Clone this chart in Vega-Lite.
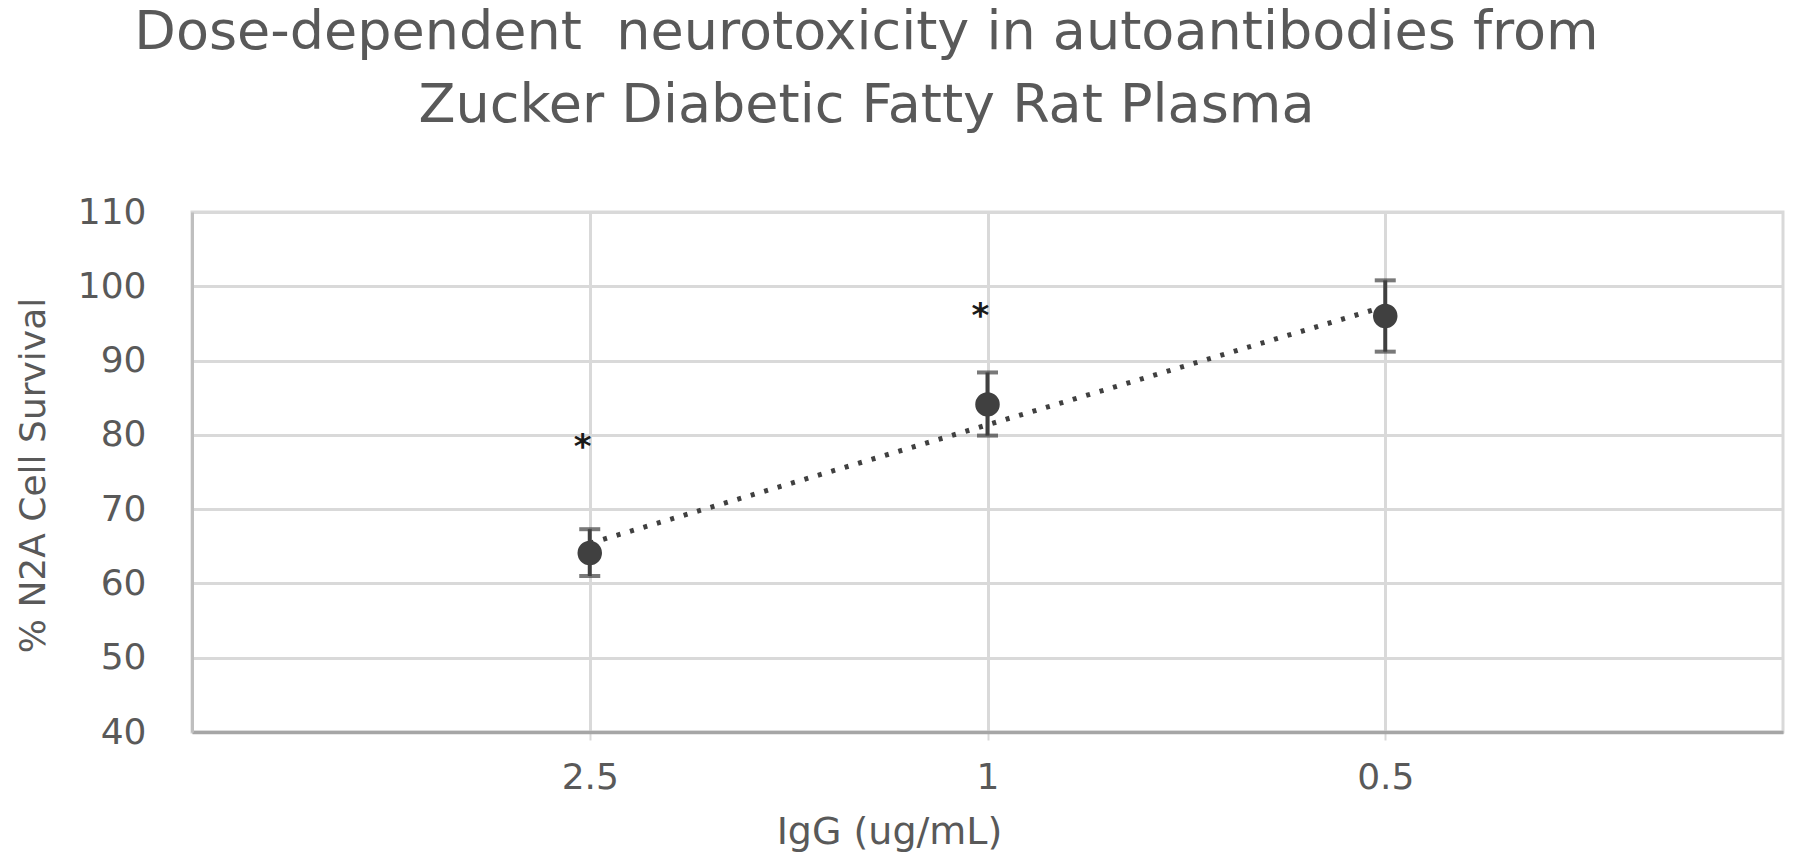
{
  "$schema": "https://vega.github.io/schema/vega-lite/v6.json",
  "width": 1591,
  "height": 520,
  "autosize": {"type": "none"},
  "padding": {"left": 192, "top": 212, "right": 17, "bottom": 134},
  "background": "white",
  "view": {"stroke": "#d9d9d9", "strokeWidth": 3},
  "title": {
    "text": ["Dose-dependent\u00a0 neurotoxicity in autoantibodies from", "Zucker Diabetic Fatty Rat Plasma"],
    "font": "DejaVu Sans",
    "fontSize": 54,
    "fontWeight": "normal",
    "color": "#595959",
    "anchor": "middle",
    "frame": "group",
    "dx": -121,
    "baseline": "alphabetic",
    "lineHeight": 73,
    "offset": 18
  },
  "datasets": {
    "points": [
      {"dose": "2.5", "survival": 64.1, "lo": 61.0, "hi": 67.3},
      {"dose": "1", "survival": 84.1, "lo": 79.9, "hi": 88.4},
      {"dose": "0.5", "survival": 96.0, "lo": 91.2, "hi": 100.8}
    ],
    "trend": [
      {"dose": "2.5", "fit": 65.4},
      {"dose": "0.5", "fit": 97.3}
    ],
    "stars": [
      {"dose": "2.5", "pos": 78.8, "mark": "*"},
      {"dose": "1", "pos": 96.4, "mark": "*"}
    ]
  },
  "encoding": {
    "x": {
      "field": "dose",
      "type": "nominal",
      "sort": ["2.5", "1", "0.5"],
      "scale": {"type": "point", "padding": 1, "domain": ["2.5", "1", "0.5"]},
      "axis": {
        "title": "IgG (ug/mL)",
        "titleFont": "DejaVu Sans",
        "titleFontSize": 38,
        "titleFontWeight": "normal",
        "titleColor": "#595959",
        "titleX": 697,
        "titleY": 111,
        "titleAlign": "center",
        "titleBaseline": "alphabetic",
        "labelFont": "DejaVu Sans",
        "labelFontSize": 36,
        "labelColor": "#595959",
        "labelAngle": 0,
        "labelBaseline": "alphabetic",
        "labelPadding": 48,
        "labelOverlap": false,
        "ticks": true,
        "tickSize": 8,
        "tickColor": "#d9d9d9",
        "tickWidth": 2,
        "grid": true,
        "gridColor": "#d9d9d9",
        "gridWidth": 3,
        "domainColor": "#a6a6a6",
        "domainWidth": 3.5
      }
    }
  },
  "layer": [
    {
      "data": {"name": "points"},
      "mark": {"type": "rule", "color": "#404040", "strokeWidth": 4},
      "encoding": {
        "y": {
          "field": "lo",
          "type": "quantitative",
          "scale": {"domain": [40, 110], "nice": false, "zero": false},
          "axis": {
            "title": "% N2A Cell Survival",
            "titleFont": "DejaVu Sans",
            "titleFontSize": 36,
            "titleFontWeight": "normal",
            "titleColor": "#595959",
            "titleAngle": -90,
            "titleX": -148,
            "titleY": 263,
            "titleAlign": "center",
            "titleBaseline": "alphabetic",
            "values": [40, 50, 60, 70, 80, 90, 100, 110],
            "labelFont": "DejaVu Sans",
            "labelFontSize": 36,
            "labelColor": "#595959",
            "labelPadding": 46,
            "ticks": false,
            "grid": true,
            "gridColor": "#d9d9d9",
            "gridWidth": 3,
            "domainColor": "#bfbfbf",
            "domainWidth": 3
          }
        },
        "y2": {"field": "hi"}
      }
    },
    {
      "data": {"name": "points"},
      "mark": {"type": "tick", "color": "#404040", "thickness": 4, "size": 21, "orient": "horizontal"},
      "encoding": {"y": {"field": "lo", "type": "quantitative"}}
    },
    {
      "data": {"name": "points"},
      "mark": {"type": "tick", "color": "#404040", "thickness": 4, "size": 21, "orient": "horizontal"},
      "encoding": {"y": {"field": "hi", "type": "quantitative"}}
    },
    {
      "data": {"name": "trend"},
      "mark": {"type": "line", "color": "#404040", "strokeWidth": 5, "strokeDash": [4, 10]},
      "encoding": {"y": {"field": "fit", "type": "quantitative"}}
    },
    {
      "data": {"name": "points"},
      "mark": {"type": "point", "filled": true, "shape": "circle", "color": "#404040", "opacity": 1, "size": 600},
      "encoding": {"y": {"field": "survival", "type": "quantitative"}}
    },
    {
      "data": {"name": "stars"},
      "mark": {"type": "text", "font": "DejaVu Sans", "fontSize": 34, "fontWeight": "bold", "color": "#1a1a1a", "align": "center", "baseline": "alphabetic", "dx": -7, "dy": 14},
      "encoding": {
        "y": {"field": "pos", "type": "quantitative"},
        "text": {"field": "mark"}
      }
    }
  ]
}
